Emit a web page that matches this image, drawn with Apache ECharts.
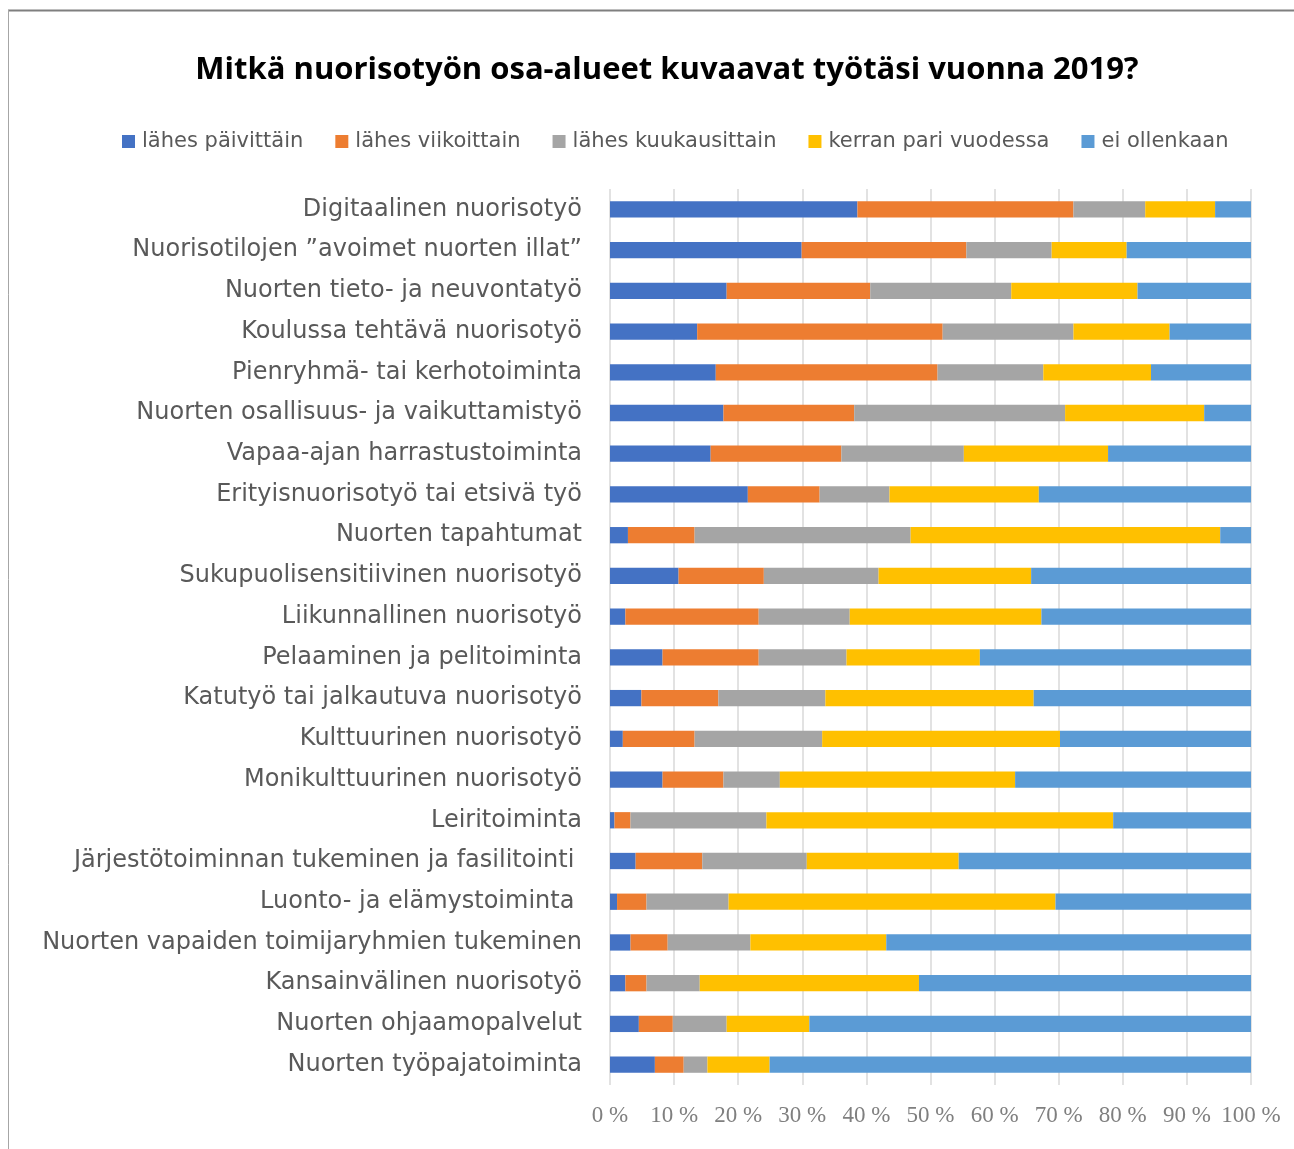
<!DOCTYPE html>
<html>
<head>
<meta charset="utf-8">
<script src="https://cdn.jsdelivr.net/npm/echarts@6/dist/echarts.min.js"></script>
<style>
html,body{margin:0;padding:0;background:#fff;}
#chart{width:1294px;height:1149px;}
</style>
</head>
<body>
<div id="chart"></div>
<script>
const categories = [
  "Digitaalinen nuorisotyö",
  "Nuorisotilojen ”avoimet nuorten illat”",
  "Nuorten tieto- ja neuvontatyö",
  "Koulussa tehtävä nuorisotyö",
  "Pienryhmä- tai kerhotoiminta",
  "Nuorten osallisuus- ja vaikuttamistyö",
  "Vapaa-ajan harrastustoiminta",
  "Erityisnuorisotyö tai etsivä työ",
  "Nuorten tapahtumat",
  "Sukupuolisensitiivinen nuorisotyö",
  "Liikunnallinen nuorisotyö",
  "Pelaaminen ja pelitoiminta",
  "Katutyö tai jalkautuva nuorisotyö",
  "Kulttuurinen nuorisotyö",
  "Monikulttuurinen nuorisotyö",
  "Leiritoiminta",
  "Järjestötoiminnan tukeminen ja fasilitointi ",
  "Luonto- ja elämystoiminta ",
  "Nuorten vapaiden toimijaryhmien tukeminen",
  "Kansainvälinen nuorisotyö",
  "Nuorten ohjaamopalvelut",
  "Nuorten työpajatoiminta"
];
const seriesNames = ["lähes päivittäin","lähes viikoittain","lähes kuukausittain","kerran pari vuodessa","ei ollenkaan"];
const lahesPaivittain   = [38.6,29.9,18.2,13.6,16.5,17.7,15.7,21.5, 2.8,10.7, 2.4, 8.2, 4.9, 2.0, 8.2, 0.7, 4.0, 1.1, 3.2, 2.4, 4.5, 7.0];
const lahesViikoittain  = [33.7,25.7,22.4,38.3,34.6,20.4,20.4,11.2,10.4,13.3,20.8,15.0,12.0,11.2, 9.5, 2.5,10.4, 4.6, 5.8, 3.3, 5.3, 4.5];
const lahesKuukausittain= [11.2,13.3,22.0,20.4,16.5,32.9,19.1,10.9,33.7,17.9,14.2,13.7,16.7,19.9, 8.8,21.2,16.3,12.8,12.9, 8.3, 8.4, 3.7];
const kerranPari        = [10.9,11.7,19.7,15.0,16.8,21.7,22.5,23.3,48.3,23.8,29.9,20.8,32.5,37.1,36.7,54.1,23.7,51.0,21.2,34.2,12.9, 9.7];
const eiOllenkaan       = [ 5.6,19.4,17.7,12.7,15.6, 7.3,22.3,33.1, 4.8,34.3,32.7,42.3,33.9,29.8,36.8,21.5,45.6,30.5,56.9,51.8,68.9,75.1];
const xTicks = [0,10,20,30,40,50,60,70,80,90,100];
const colors = ["#4472C4","#ED7D31","#A5A5A5","#FFC000","#5B9BD5"];
const allData = [lahesPaivittain, lahesViikoittain, lahesKuukausittain, kerranPari, eiOllenkaan];

const chart = echarts.init(document.getElementById('chart'));
chart.setOption({
  animation: false,
  color: colors,
  graphic: [
    {type:'line', shape:{x1:8,y1:10.5,x2:1294,y2:10.5}, style:{stroke:'#7f7f7f', lineWidth:2}},
    {type:'line', shape:{x1:8.5,y1:10,x2:8.5,y2:1149}, style:{stroke:'#a6a6a6', lineWidth:1}},
    {type:'text', x: 667, y: 70, style:{text:'Mitkä nuorisotyön osa-alueet kuvaavat työtäsi vuonna 2019?', font:'bold 31px "Open Sans"', fill:'#000', textAlign:'center', textVerticalAlign:'middle'}}
  ],
  legend: {
    top: 126, left: 117,
    itemWidth: 13, itemHeight: 13, itemGap: 32,
    icon: 'rect',
    textStyle: {fontFamily:'DejaVu Sans', fontSize: 21, color:'#595959', padding:[0,0,0,2]},
    data: seriesNames
  },
  grid: {left: 610, right: 43, top: 189, bottom: 64, containLabel: false},
  xAxis: {
    type: 'value', min: 0, max: 100, interval: 10,
    axisLine: {show:false}, axisTick:{show:false},
    splitLine: {show:true, lineStyle:{color:'#d9d9d9', width:1.5}},
    axisLabel: {formatter: v => v + ' %', fontFamily:'Liberation Serif', fontSize: 23, color:'#7f7f7f', margin: 19}
  },
  yAxis: {
    type: 'category', inverse: true, data: categories,
    axisLine:{show:false}, axisTick:{show:false},
    axisLabel:{fontFamily:'DejaVu Sans', fontSize: 24, color:'#595959', margin: 28}
  },
  series: seriesNames.map((n,i)=>({
    name: n, type:'bar', stack:'total', barWidth:'40%',
    data: allData[i],
    itemStyle:{color: colors[i]}
  }))
});
</script>
</body>
</html>
